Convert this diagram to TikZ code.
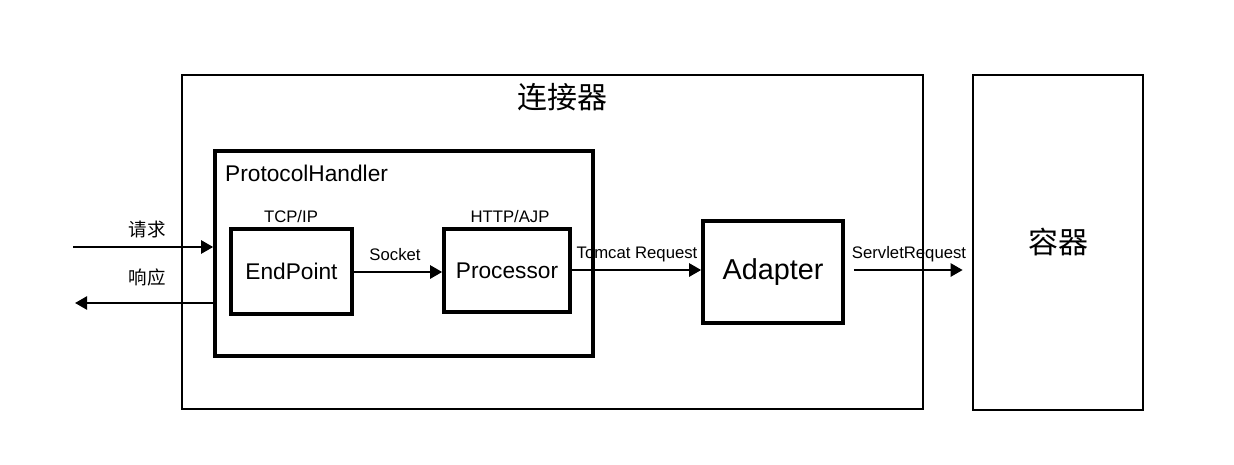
\documentclass[tikz,border=0pt]{standalone}
\usepackage{fontspec}
\setmainfont{Liberation Sans}
\newfontfamily\cjk{Noto Sans CJK SC}
\usetikzlibrary{arrows.meta,calc}
\begin{document}
\begin{tikzpicture}[x=1pt,y=-1pt,
  frame/.style={draw, line width=2.6pt, rectangle, inner sep=0pt},
  blk/.style={draw, line width=3.6pt, rectangle, inner sep=0pt, font=\fontsize{22.7}{24}\selectfont},
  lbl/.style={inner sep=0pt, font=\fontsize{16.7}{18}\selectfont},
  cjklbl/.style={inner sep=0pt, font=\cjk\fontsize{18.5}{20}\selectfont},
  bigcjk/.style={inner sep=0pt, font=\cjk\fontsize{30}{32}\selectfont},
  arr/.style={line width=2.4pt, -{Triangle[length=12pt,width=13pt]}}
]
\useasboundingbox (0,0) rectangle (1234,464);
\fill[white] (0,0) rectangle (1234,464);

% outer frames
\node[frame, minimum width=741pt, minimum height=334pt] (conn) at (552.5,242) {};
\node[bigcjk] (conntitle) at (562,97) {连接器};
\node[frame, minimum width=170pt, minimum height=335pt, font=\cjk\fontsize{30}{32}\selectfont] (ct) at (1058,242.5) {容器};

% protocol handler
\node[blk, minimum width=378pt, minimum height=205pt] (ph) at (404,253.5) {};
\node[inner sep=0pt, anchor=west, font=\fontsize{22.7}{24}\selectfont] (phlabel) at (225,173) {ProtocolHandler};

% blocks
\node[blk, minimum width=121pt, minimum height=85pt] (ep) at (291.5,271.5) {EndPoint};
\node[blk, minimum width=126pt, minimum height=83pt] (pr) at (507,270.5) {Processor};
\node[blk, minimum width=140pt, minimum height=102pt, font=\fontsize{28.8}{30}\selectfont] (ad) at (773,272) {Adapter};

% labels above blocks
\node[lbl] (tcp) at (291,217) {TCP/IP};
\node[lbl] (http) at (510,217) {HTTP/AJP};

% request / response
\coordinate (reqin) at (73,247);
\coordinate (respout) at (75,303);
\draw[arr] (reqin) -- (reqin -| ph.west);
\draw[arr] (respout -| ph.west) -- (respout);
\node[cjklbl] (reqlbl) at (147,229) {请求};
\node[cjklbl] (resplbl) at (147,277) {响应};

% internal arrows
\draw[arr] (ep.east |- 0,272) -- (pr.west |- 0,272);
\node[lbl] (socketlbl) at (395,255) {Socket};
\draw[arr] (pr.east |- 0,270) -- (ad.west |- 0,270);
\node[lbl] (tomcatlbl) at (637,254) {Tomcat Request};
\draw[arr, shorten <=9pt, shorten >=9pt] (ad.east |- 0,270) -- (ct.west |- 0,270);
\node[lbl] (servletlbl) at (909,254) {ServletRequest};
\end{tikzpicture}
\end{document}
